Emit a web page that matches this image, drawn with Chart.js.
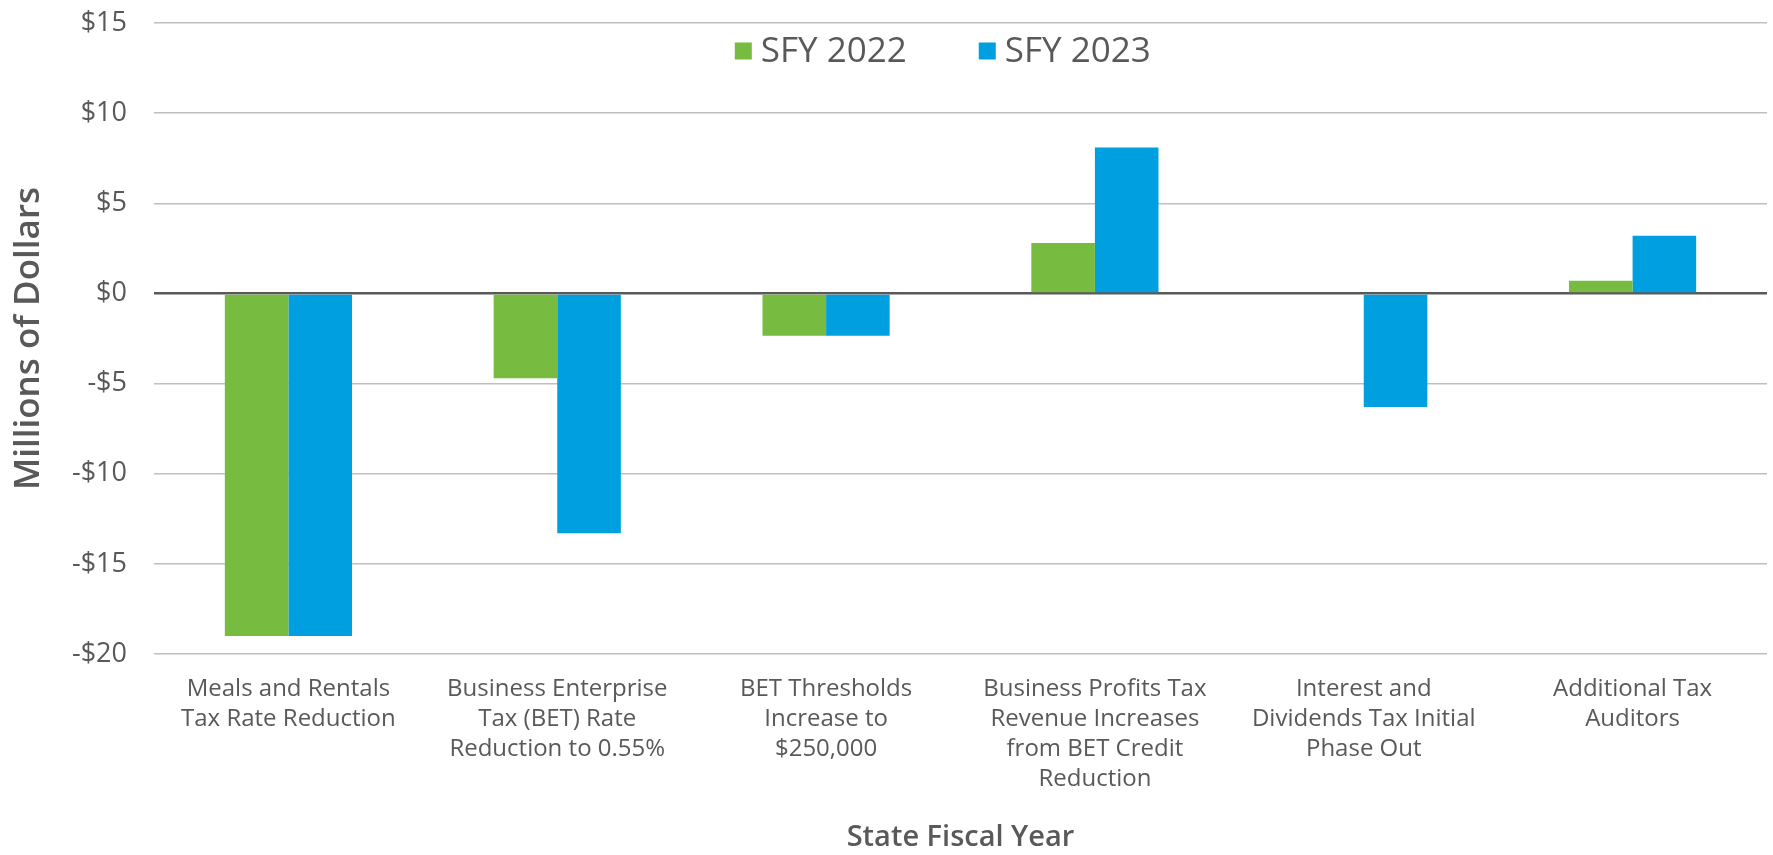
<!DOCTYPE html>
<html>
<head>
<meta charset="utf-8">
<script src="https://cdn.jsdelivr.net/npm/chart.js@4.4.0/dist/chart.umd.min.js"></script>
<style>
    html, body { margin: 0; padding: 0; background: #ffffff; }
    #wrap { width: 1773px; height: 855px; position: relative; }
</style>
</head>
<body>
<div id="wrap"><canvas id="revenue-chart"></canvas></div>
<script>
const categories = [
    ['Meals and Rentals', 'Tax Rate Reduction'],
    ['Business Enterprise', 'Tax (BET) Rate', 'Reduction to 0.55%'],
    ['BET Thresholds', 'Increase to', '$250,000'],
    ['Business Profits Tax', 'Revenue Increases', 'from BET Credit', 'Reduction'],
    ['Interest and', 'Dividends Tax Initial', 'Phase Out'],
    ['Additional Tax', 'Auditors']
];
const seriesNames = ['SFY 2022', 'SFY 2023'];
const sfy2022 = [-19.0, -4.7, -2.35, 2.8, 0, 0.7];
const sfy2023 = [-19.0, -13.3, -2.35, 8.1, -6.3, 3.2];
const yTicks = [-20, -15, -10, -5, 0, 5, 10, 15];

const GREEN = '#77bb41';
const BLUE = '#009fdf';
const TEXT = '#595959';
const FONT = "'Open Sans', sans-serif";

// legend sits inside the plot, so draw it by hand
const insideLegend = {
    id: 'insideLegend',
    afterDraw(chart) {
        const ctx = chart.ctx;
        const area = chart.chartArea;
        const box = 17;
        const gap = 9;
        const spacing = 72;
        ctx.save();
        ctx.font = `35px ${FONT}`;
        ctx.textBaseline = 'middle';
        const items = chart.data.datasets.map(ds => ({
            label: ds.label,
            color: ds.backgroundColor,
            w: box + gap + ctx.measureText(ds.label).width
        }));
        const total = items.reduce((a, it) => a + it.w, 0) + spacing * (items.length - 1);
        let x = area.left + area.width * 0.489 - total / 2;
        const y = 51;
        items.forEach(it => {
            ctx.fillStyle = it.color;
            ctx.fillRect(x, y - box / 2, box, box);
            ctx.fillStyle = TEXT;
            ctx.fillText(it.label, x + box + gap, y + 1);
            x += it.w + spacing;
        });
        ctx.restore();
    }
};

new Chart(document.getElementById('revenue-chart'), {
    type: 'bar',
    data: {
        labels: categories,
        datasets: [
            { label: seriesNames[0], data: sfy2022, backgroundColor: GREEN },
            { label: seriesNames[1], data: sfy2023, backgroundColor: BLUE }
        ]
    },
    options: {
        responsive: true,
        maintainAspectRatio: false,
        animation: false,
        categoryPercentage: 0.473,
        barPercentage: 1.0,
        layout: { padding: { left: 0, right: 6, top: 23, bottom: 0 } },
        plugins: {
            legend: { display: false },
            tooltip: { enabled: false }
        },
        scales: {
            x: {
                grid: { display: false },
                border: { display: false },
                ticks: {
                    color: TEXT,
                    padding: 12,
                    maxRotation: 0,
                    autoSkip: false,
                    font: { family: FONT, size: 24, lineHeight: 1.25 }
                },
                title: {
                    display: true,
                    text: 'State Fiscal Year',
                    color: TEXT,
                    padding: { top: 0, bottom: 0 },
                    font: { family: FONT, size: 29, weight: '600' }
                },
                afterFit(scale) { scale.height = 201; }
            },
            y: {
                min: yTicks[0],
                max: yTicks[yTicks.length - 1],
                afterBuildTicks(scale) { scale.ticks = yTicks.map(v => ({ value: v })); },
                border: { display: false },
                grid: {
                    drawTicks: false,
                    color: c => c.tick.value === 0 ? '#595959' : '#bfbfbf',
                    lineWidth: c => c.tick.value === 0 ? 2.5 : 1.5
                },
                ticks: {
                    color: TEXT,
                    padding: 27,
                    font: { family: FONT, size: 27 },
                    callback: v => (v < 0 ? '-$' : '$') + Math.abs(v)
                },
                title: {
                    display: true,
                    text: 'Millions of Dollars',
                    color: TEXT,
                    padding: { top: 8, bottom: 0 },
                    font: { family: FONT, size: 35, weight: '600' }
                },
                afterFit(scale) {
                    scale.width = 154;
                    scale.paddingTop = 0;
                    scale.paddingBottom = 0;
                }
            }
        }
    },
    plugins: [insideLegend]
});
</script>
</body>
</html>
